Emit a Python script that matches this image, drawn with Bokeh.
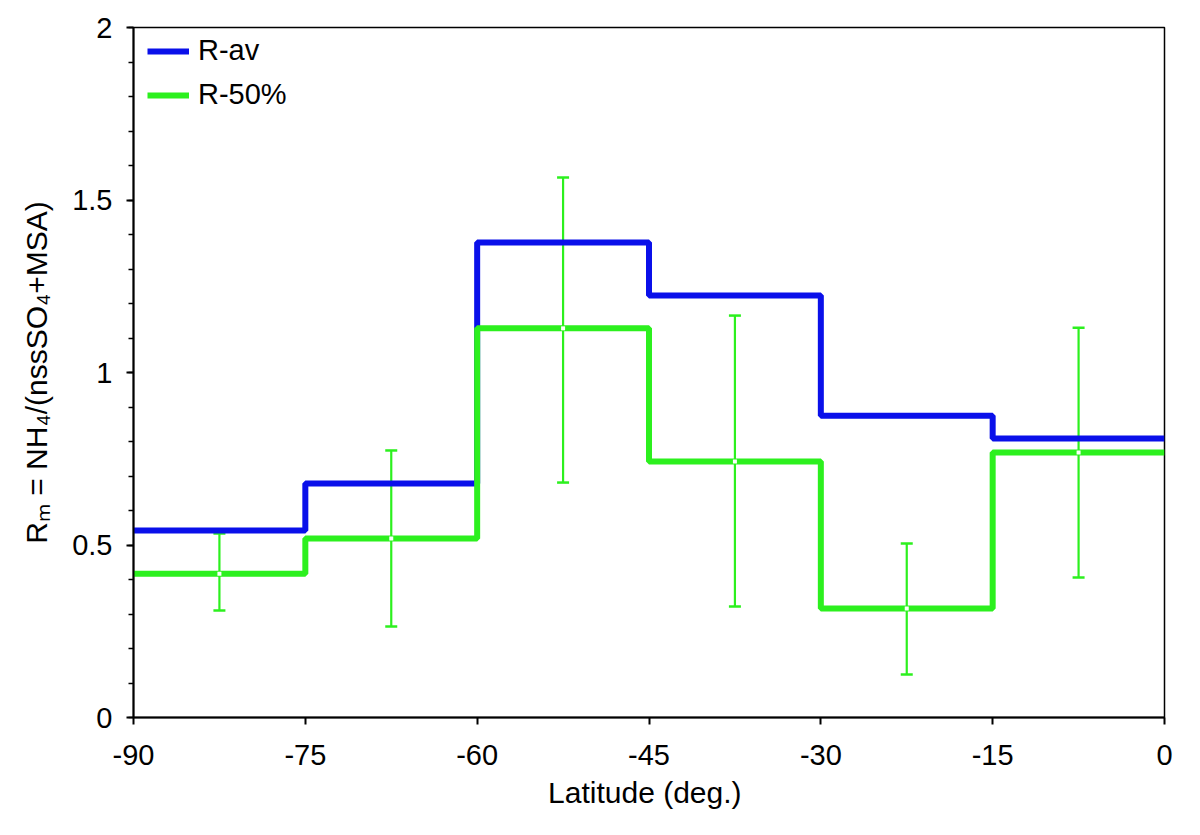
from bokeh.plotting import figure
from bokeh.models import (SingleIntervalTicker, Whisker, TeeHead,
                          ColumnDataSource, Range1d)
from bokeh.embed import file_html
from bokeh.resources import INLINE

# ---- data ----
bin_edges = [-90, -75, -60, -45, -30, -15, 0]
r_av = [0.542, 0.678, 1.377, 1.223, 0.875, 0.809]
r_50 = [0.417, 0.519, 1.128, 0.742, 0.316, 0.768]
err_x = [-82.5, -67.5, -52.5, -37.5, -22.5, -7.5]
err_low = [0.310, 0.264, 0.681, 0.322, 0.125, 0.406]
err_high = [0.533, 0.774, 1.565, 1.165, 0.504, 1.130]
x_ticks = [-90, -75, -60, -45, -30, -15, 0]
x_tick_labels = ["-90", "-75", "-60", "-45", "-30", "-15", "0"]
y_ticks = [0, 0.5, 1, 1.5, 2]
y_tick_labels = ["0", "0.5", "1", "1.5", "2"]

BLUE = "#0a10ea"
GREEN = "#2cf01e"
FONT = "Liberation Sans"

p = figure(width=1192, height=823, output_backend="svg", toolbar_location=None,
           x_range=Range1d(-90, 0), y_range=Range1d(0, 2),
           min_border_left=133, min_border_right=28, min_border_top=27,
           min_border_bottom=106)

p.grid.visible = False
p.outline_line_color = "black"
p.outline_line_width = 1.5
p.background_fill_color = "white"
p.border_fill_color = "white"

# step lines
p.step(bin_edges, r_av + [r_av[-1]], mode="after", line_color=BLUE,
       line_width=6, legend_label="R-av")
p.step(bin_edges, r_50 + [r_50[-1]], mode="after", line_color=GREEN,
       line_width=6, legend_label="R-50%")

# error bars
src = ColumnDataSource(dict(x=err_x, lo=err_low, hi=err_high, mid=r_50))
wh = Whisker(source=src, base="x", lower="lo", upper="hi", dimension="height",
             line_color=GREEN, line_width=2.2,
             upper_head=TeeHead(size=12, line_color=GREEN, line_width=2.5),
             lower_head=TeeHead(size=12, line_color=GREEN, line_width=2.5))
p.add_layout(wh)
p.scatter("x", "mid", source=src, marker="square", size=4,
          fill_color="white", line_color=None)

# axes
p.xaxis.ticker = SingleIntervalTicker(interval=15, num_minor_ticks=0)
p.yaxis.ticker = SingleIntervalTicker(interval=0.5, num_minor_ticks=5)
p.xaxis.major_label_overrides = dict(zip(x_ticks, x_tick_labels))
p.yaxis.major_label_overrides = dict(zip(y_ticks, y_tick_labels))
for ax in (p.xaxis, p.yaxis):
    ax.axis_line_width = 2
    ax.axis_line_color = "black"
    ax.major_tick_line_width = 2
    ax.minor_tick_line_width = 1.5
    ax.major_tick_in = 0
    ax.major_tick_out = 7
    ax.minor_tick_in = 0
    ax.minor_tick_out = 5
    ax.major_label_text_font = FONT
    ax.major_label_text_font_size = "29px"
    ax.major_label_text_color = "black"
    ax.axis_label_text_font = FONT
    ax.axis_label_text_font_size = "30px"
    ax.axis_label_text_font_style = "normal"
    ax.axis_label_text_color = "black"

p.xaxis.major_label_standoff = 20
p.yaxis.major_label_standoff = 14
p.xaxis.axis_label = "Latitude  (deg.)"
p.yaxis.axis_label = "R\u2098 = NH\u2084/(nssSO\u2084+MSA)"
p.xaxis.axis_label_standoff = 8
p.yaxis.axis_label_standoff = 16

# legend
lg = p.legend[0]
lg.location = (14, 606)
lg.margin = 0
lg.padding = 0
lg.spacing = 11
lg.glyph_width = 42
lg.glyph_height = 30
lg.label_height = 30
lg.label_standoff = 9
lg.label_text_font = FONT
lg.label_text_font_size = "29px"
lg.label_text_color = "black"
lg.border_line_color = None
lg.background_fill_alpha = 0

open("out.html", "w").write(file_html(p, INLINE))
